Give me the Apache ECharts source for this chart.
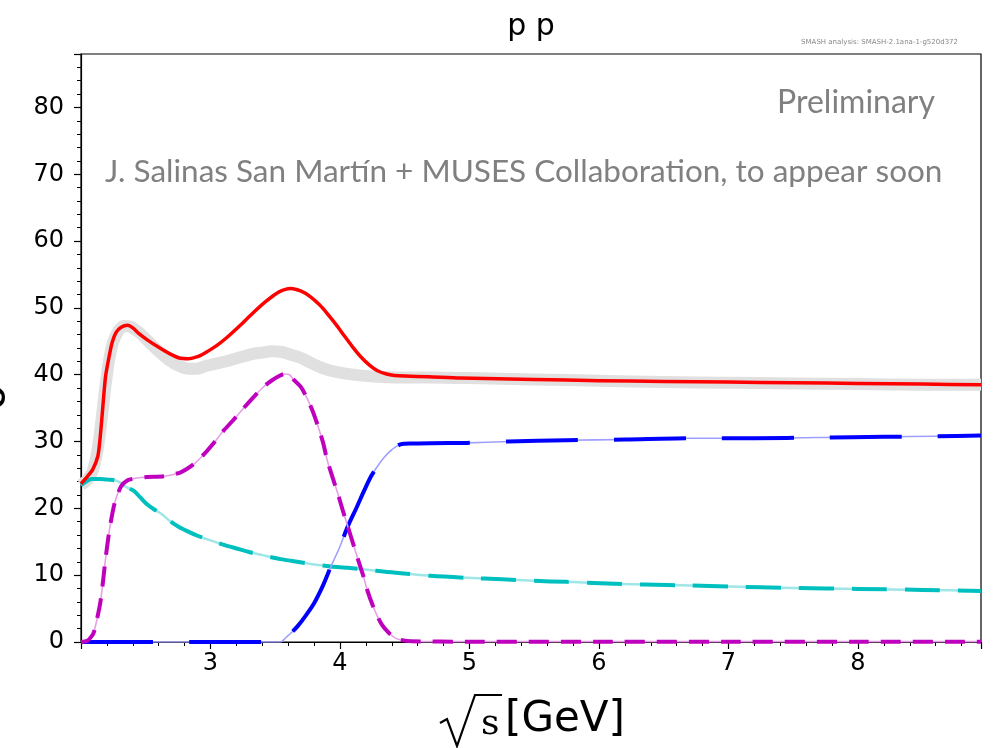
<!DOCTYPE html>
<html><head><meta charset="utf-8">
<script src="https://cdn.jsdelivr.net/npm/echarts@6/dist/echarts.min.js"></script>
<style>html,body{margin:0;padding:0;background:#fff}#c{width:997px;height:748px}</style>
</head><body><div id="c"></div>
<script>
// ---- data ----
const totalX = [2.00,2.05,2.09,2.13,2.15,2.17,2.19,2.22,2.24,2.27,2.31,2.36,2.40,2.45,2.52,2.60,2.68,2.76,2.83,2.90,2.96,3.05,3.14,3.23,3.32,3.43,3.53,3.62,3.70,3.77,3.84,3.90,3.97,4.03,4.10,4.16,4.23,4.29,4.36,4.42,4.50,4.68,4.93,5.5,6.0,6.5,7.0,7.5,8.0,8.5,8.95];
const totalY = [23.7,24.8,25.8,27.8,31.0,35.5,39.8,43.0,44.8,46.3,47.1,47.4,47.0,46.1,45.1,44.1,43.2,42.5,42.4,42.7,43.3,44.4,45.8,47.4,49.1,51.0,52.4,52.9,52.5,51.7,50.5,49.2,47.5,45.9,44.1,42.7,41.4,40.6,40.1,39.9,39.8,39.7,39.5,39.3,39.1,39.0,38.9,38.8,38.7,38.6,38.5];

const refX = [2.00,2.05,2.09,2.13,2.16,2.19,2.22,2.25,2.29,2.33,2.38,2.45,2.52,2.60,2.68,2.76,2.83,2.90,2.96,3.05,3.14,3.23,3.32,3.40,3.47,3.55,3.62,3.70,3.77,3.85,3.93,4.03,4.15,4.29,4.45,4.7,5.0,5.5,6.0,6.5,7.0,7.5,8.0,8.5,8.95];
const refY = [23.5,24.3,25.6,29.0,33.5,38.5,42.5,45.0,46.6,47.3,47.2,46.3,45.0,43.5,42.2,41.3,40.9,40.9,41.3,41.7,42.1,42.6,43.1,43.3,43.5,43.4,43.0,42.5,41.8,41.1,40.6,40.2,39.9,39.7,39.6,39.6,39.5,39.3,39.1,38.9,38.8,38.7,38.6,38.5,38.5];

const magX = [2.00,2.05,2.08,2.10,2.15,2.19,2.22,2.26,2.31,2.36,2.42,2.51,2.64,2.77,2.87,2.95,3.03,3.10,3.18,3.26,3.34,3.41,3.47,3.53,3.57,3.61,3.64,3.70,3.75,3.79,3.83,3.87,3.90,3.94,3.98,4.02,4.06,4.10,4.14,4.18,4.21,4.25,4.29,4.33,4.37,4.41,4.45,4.55,5.0,6.0,7.0,8.0,8.95];
const magY = [0,0.2,0.8,1.5,6.0,12.5,16.8,20.8,23.3,24.2,24.5,24.7,24.8,25.4,26.6,28.1,29.9,31.6,33.3,35.1,36.8,38.2,39.1,39.8,40.1,40.0,39.3,38.1,36.3,34.5,32.3,29.8,27.3,24.8,22.4,19.8,17.3,14.8,12.3,9.9,7.8,5.6,3.8,2.4,1.5,0.8,0.4,0.1,0.05,0.05,0.05,0.05,0.05];

const cyanX = [2.00,2.04,2.08,2.15,2.21,2.26,2.30,2.33,2.37,2.41,2.46,2.51,2.56,2.62,2.68,2.75,2.82,2.90,3.00,3.11,3.20,3.29,3.40,3.54,3.67,3.80,3.93,4.06,4.21,4.35,4.47,4.7,4.98,5.25,5.50,5.75,6.01,6.35,6.71,7.0,7.5,8.0,8.5,8.95];
const cyanY = [23.5,24.0,24.4,24.4,24.3,24.2,23.9,23.4,23.0,22.6,21.6,20.6,19.9,19.2,18.2,17.3,16.6,15.9,15.2,14.5,14.0,13.5,13.0,12.4,12.0,11.6,11.3,11.1,10.8,10.5,10.3,9.9,9.6,9.4,9.15,9.0,8.8,8.6,8.45,8.3,8.1,7.95,7.8,7.65];

const blueX = [2.00,2.5,3.0,3.54,3.59,3.63,3.67,3.73,3.80,3.87,3.93,4.00,4.06,4.13,4.19,4.24,4.29,4.34,4.39,4.43,4.47,4.55,4.7,4.98,5.3,5.75,6.2,6.71,7.2,7.7,8.2,8.6,8.95];
const blueY = [0,0,0,0,0.8,1.5,2.3,3.8,5.8,8.5,11.3,14.3,17.3,20.2,22.8,24.8,26.3,27.6,28.6,29.2,29.6,29.7,29.75,29.8,30.0,30.2,30.3,30.5,30.5,30.6,30.7,30.8,30.9];

const xTicks = [3,4,5,6,7,8];
const yTicks = [0,10,20,30,40,50,60,70,80];
const titleText = 'p p';
const versionText = 'SMASH analysis: SMASH-2.1ana-1-g520d372';
const prelimText = 'Preliminary';
const creditText = 'J. Salinas San Martín + MUSES Collaboration, to appear soon';
const yNameText = 'σ';

// ---- chart ----
const pairs = (xs, ys) => xs.map((x, i) => [x, ys[i]]);
const chart = echarts.init(document.getElementById('c'), null, {renderer: 'canvas'});
const FONT = 'DejaVu Sans';

function line(name, data, color, width, type, z) {
  return {
    name, type: 'line', data, showSymbol: false, symbol: 'none',
    smooth: 0.25, z: z,
    lineStyle: {color, width, type: type || 'solid', cap: 'butt', join: 'round'},
    emphasis: {disabled: true}, silent: true
  };
}

chart.setOption({
  animation: false,
  backgroundColor: '#fff',
  grid: {left: 81, right: 16, top: 54, bottom: 106, show: true, borderColor: '#000', borderWidth: 1.2, backgroundColor: 'transparent'},
  xAxis: {
    type: 'value', min: 2, max: 8.95, interval: 1,
    axisLine: {show: true, lineStyle: {color: '#000', width: 1.2}},
    axisTick: {show: true, inside: false, length: 7, lineStyle: {color: '#000', width: 1.2}},
    minorTick: {show: true, splitNumber: 5, length: 4, lineStyle: {color: '#000', width: 1}},
    splitLine: {show: false},
    axisLabel: {
      fontFamily: FONT, fontSize: 24, color: '#000', margin: 10,
      formatter: v => xTicks.indexOf(Math.round(v * 1000) / 1000) >= 0 ? String(v) : '',
      showMaxLabel: false
    }
  },
  yAxis: {
    type: 'value', min: 0, max: 88, interval: 10,
    axisLine: {show: true, lineStyle: {color: '#000', width: 1.2}},
    axisTick: {show: true, inside: false, length: 7, lineStyle: {color: '#000', width: 1.2}},
    minorTick: {show: true, splitNumber: 5, length: 4, lineStyle: {color: '#000', width: 1}},
    splitLine: {show: false},
    axisLabel: {
      fontFamily: FONT, fontSize: 24, color: '#000', margin: 17,
      formatter: v => yTicks.indexOf(v) >= 0 ? String(v) : '',
      showMaxLabel: false
    }
  },
  series: [
    line('ref', pairs(refX, refY), '#e0e0e0', 12, 'solid', 1),
    line('cyan-thin', pairs(cyanX, cyanY), '#9fe6e6', 2.5, 'solid', 2),
    line('cyan', pairs(cyanX, cyanY), '#00bfbf', 4, [35, 18], 3),
    line('blue-thin', pairs(blueX, blueY), '#9f9fff', 1.6, 'solid', 4),
    line('blue', pairs(blueX, blueY), '#0000ff', 4, [72, 36], 5),
    line('mag-thin', pairs(magX, magY), '#e6a0e6', 1.6, 'solid', 6),
    line('mag', pairs(magX, magY), '#bf00bf', 4, [20, 12], 7),
    line('total', pairs(totalX, totalY), '#ff0000', 3.5, 'solid', 8)
  ],
  graphic: [
    {type: 'text', x: 531, y: 27, style: {text: titleText, font: '30px "DejaVu Sans"', fill: '#000', align: 'center', verticalAlign: 'middle'}},
    {type: 'text', x: 958, y: 42, style: {text: versionText, font: '7px "DejaVu Sans"', fill: '#888', align: 'right', verticalAlign: 'middle'}},
    {type: 'text', x: 935, y: 103, z: 10, style: {text: prelimText, font: '32px Lato', fill: '#808080', align: 'right', verticalAlign: 'middle'}},
    {type: 'text', x: 105, y: 172, z: 10, style: {text: creditText, font: '31.5px Lato', fill: '#808080', align: 'left', verticalAlign: 'middle'}},
    // x axis label: sqrt(s) [GeV]
    {type: 'polyline', shape: {points: [[440, 723], [447, 719], [457, 746], [475, 695], [502, 695]]}, style: {stroke: '#000', lineWidth: 2.2, fill: null}},
    {type: 'text', x: 481, y: 725, style: {text: 's', font: '36px "DejaVu Serif"', fill: '#000', align: 'left', verticalAlign: 'middle'}},
    {type: 'text', x: 505, y: 720, style: {text: '[GeV]', font: '42px "DejaVu Sans"', fill: '#000', align: 'left', verticalAlign: 'middle'}},
    // y axis label, cut off by the left edge of the canvas
    {type: 'text', x: -7, y: 397, rotation: Math.PI / 2, style: {text: yNameText, font: '42px "DejaVu Sans"', fill: '#000', align: 'center', verticalAlign: 'middle'}}
  ]
});
</script></body></html>
